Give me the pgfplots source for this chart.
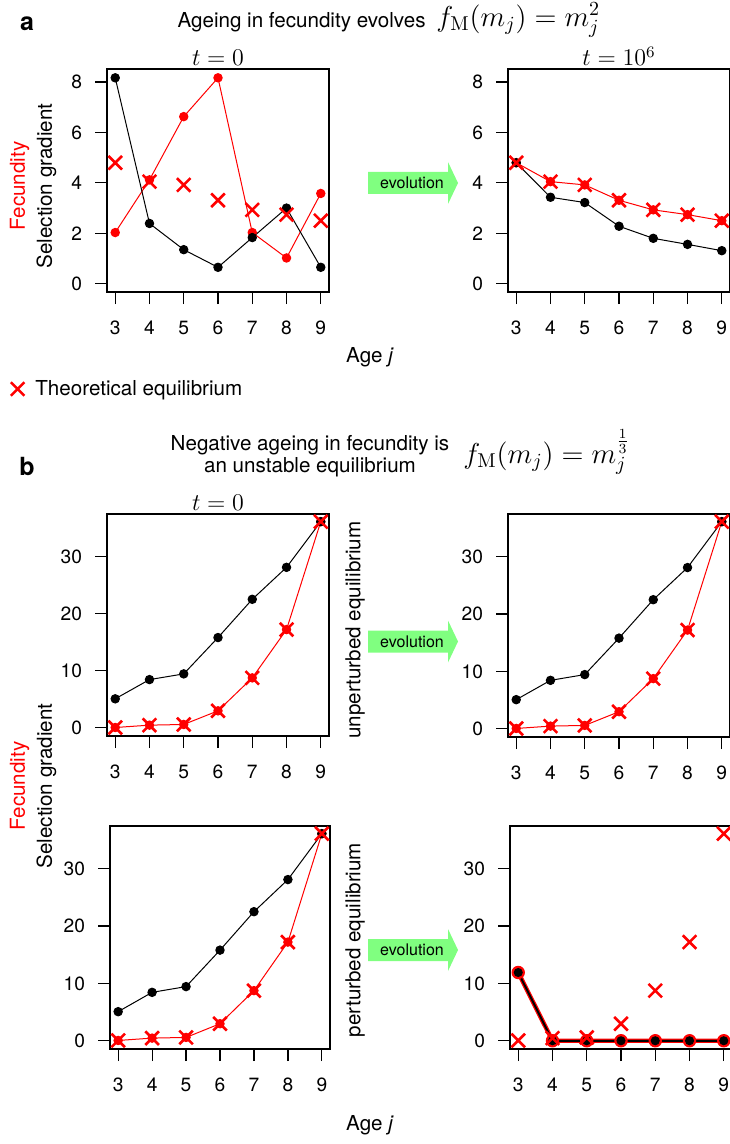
\documentclass[border=0pt]{standalone}
\usepackage[no-math]{fontspec}
\setmainfont{TeX Gyre Heros}
\usepackage{pgfplots}
\pgfplotsset{compat=1.18}
\definecolor{evgreen}{RGB}{128,255,128}
\newcommand\lab{\fontsize{10.3}{11}\selectfont}
\pgfplotsset{
  panel/.style={
    anchor=south west, scale only axis,
    xmin=2.76, xmax=9.24, xtick={3,4,5,6,7,8,9},
    tick align=outside, major tick length=6pt,
    xtick pos=bottom, ytick pos=left,
    axis line style={line width=0.6pt},
    every tick/.style={black, line width=0.6pt},
    /pgf/number format/assume math mode=true,
    ticklabel style={font=\fontsize{9.6}{11}\selectfont},
    yticklabel style={xshift=-3pt},
    xticklabel style={yshift=-5pt},
  },
  pa/.style={panel, ymin=-0.33, ymax=8.52, ytick={0,2,4,6,8}, width=111pt, height=111.5pt},
  pb/.style={panel, ymin=-1.44, ymax=37.44, ytick={0,10,20,30}, width=111pt, height=111.5pt},
  blk/.style={black, line width=0.5pt, mark=*, mark size=2.1pt, mark options={fill=black}},
  rd/.style={red, line width=0.5pt, mark=*, mark size=2.1pt, mark options={fill=red}},
  crs/.style={red, only marks, mark=x, mark size=4.8pt, mark options={line width=1.3pt}},
}
\pgfplotstableread{
x y
3 0.05
4 0.46
5 0.58
6 2.97
7 8.74
8 17.2
9 36.1
}\bred
\pgfplotstableread{
x y
3 5.07
4 8.44
5 9.44
6 15.8
7 22.5
8 28.1
9 36.1
}\bblack
\pgfplotstableread{
x y
3 4.80
4 4.05
5 3.92
6 3.31
7 2.93
8 2.74
9 2.50
}\aeq
\begin{document}
\begin{tikzpicture}
% ---------- panel a left
\begin{axis}[pa, at={(53.5pt,-146pt)},
  legend style={at={(axis description cs:-0.435,-0.435)}, anchor=west, draw=none, fill=none, font=\lab, inner sep=0pt,
    /tikz/every odd column/.append style={column sep=3.5pt}},
  legend image code/.code={\draw[mark repeat=2,mark phase=2,#1] plot coordinates {(0cm,0cm) (0.25cm,0cm) (0.5cm,0cm)};}]
\addplot[rd, forget plot] coordinates {(3,2.03)(4,4.12)(5,6.63)(6,8.17)(7,2.03)(8,1.02)(9,3.58)};
\addplot[blk, forget plot] coordinates {(3,8.17)(4,2.39)(5,1.35)(6,0.65)(7,1.83)(8,3.0)(9,0.65)};
\addplot[crs] table {\aeq};
\addlegendentry{Theoretical equilibrium}
\end{axis}
% ---------- panel a right
\begin{axis}[pa, at={(254pt,-146pt)}]
\addplot[rd] table {\aeq};
\addplot[blk] coordinates {(3,4.8)(4,3.43)(5,3.22)(6,2.28)(7,1.8)(8,1.56)(9,1.31)};
\addplot[crs] table {\aeq};
\end{axis}
% ---------- panel b top left
\begin{axis}[pb, at={(53.5pt,-368pt)}, height=111pt]
\addplot[rd] table {\bred};
\addplot[blk] table {\bblack};
\addplot[crs] table {\bred};
\end{axis}
% ---------- panel b top right
\begin{axis}[pb, at={(254pt,-368.5pt)}]
\addplot[rd] table {\bred};
\addplot[blk] table {\bblack};
\addplot[crs] table {\bred};
\end{axis}
% ---------- panel b bottom left
\begin{axis}[pb, at={(55pt,-524.5pt)}, width=110pt]
\addplot[rd] table {\bred};
\addplot[blk] table {\bblack};
\addplot[crs] table {\bred};
\end{axis}
% ---------- panel b bottom right
\begin{axis}[pb, at={(255pt,-524.5pt)}]
\addplot[red, line width=2.2pt, mark=*, mark size=3.1pt, mark options={fill=red, line width=0.5pt}] coordinates {(3,11.9)(4,0)(5,0)(6,0)(7,0)(8,0)(9,0)};
\addplot[black, line width=1pt, mark=*, mark size=2pt, mark options={fill=black, line width=0.5pt}] coordinates {(3,11.9)(4,0)(5,0)(6,0)(7,0)(8,0)(9,0)};
\addplot[crs] table {\bred};
\end{axis}
% ---------- texts and arrows (pixel coordinates)
\begin{scope}[x=0.5pt,y=-0.5pt]
\node[font=\fontsize{12.5}{14}\selectfont\bfseries] at (27,24) {a};
\node[font=\fontsize{12.5}{14}\selectfont\bfseries] at (27,466) {b};
\node[font=\lab, anchor=east, inner sep=0pt] at (426,22) {Ageing in fecundity evolves};
\node[font=\fontsize{14}{16}\selectfont, anchor=west, inner sep=0pt] at (436,20) {$f_\mathrm{M}(m_j)=m_j^2$};
\node[font=\lab, align=center] at (310,456) {Negative ageing in fecundity is\\an unstable equilibrium};
\node[font=\fontsize{14}{16}\selectfont, anchor=west, inner sep=0pt] at (463,452) {$f_\mathrm{M}(m_j)=m_j^{\frac{1}{3}}$};
\node[font=\fontsize{11.5}{13}\selectfont, anchor=base] at (218,66) {$t=0$};
\node[font=\fontsize{11.5}{13}\selectfont, anchor=base] at (619,66) {$t=10^6$};
\node[font=\fontsize{11.5}{13}\selectfont, anchor=base] at (218,510) {$t=0$};
\node[font=\lab, rotate=90, text=red] at (19.5,186) {Fecundity};
\node[font=\lab, rotate=90] at (46.5,186) {Selection gradient};
\node[font=\lab, rotate=90, text=red] at (19.5,786) {Fecundity};
\node[font=\lab, rotate=90] at (46.5,786) {Selection gradient};
\node[font=\lab, rotate=90] at (355,630) {unperturbed equilibrium};
\node[font=\lab, rotate=90] at (355,940) {perturbed equilibrium};
\node[font=\lab] at (370,357) {Age \textit{j}};
\node[font=\lab] at (370,1125) {Age \textit{j}};
\foreach \cy in {183,641.5,950}{
  \fill[evgreen] (368,\cy-11) -- (448,\cy-11) -- (448,\cy-21) -- (458,\cy) -- (448,\cy+21) -- (448,\cy+11) -- (368,\cy+11) -- cycle;
  \node[font=\fontsize{8}{9}\selectfont] at (412,\cy) {evolution};
}
\end{scope}
\pgfresetboundingbox
\path (0pt,0pt) rectangle (364.5pt,-572pt);
\end{tikzpicture}
\end{document}
